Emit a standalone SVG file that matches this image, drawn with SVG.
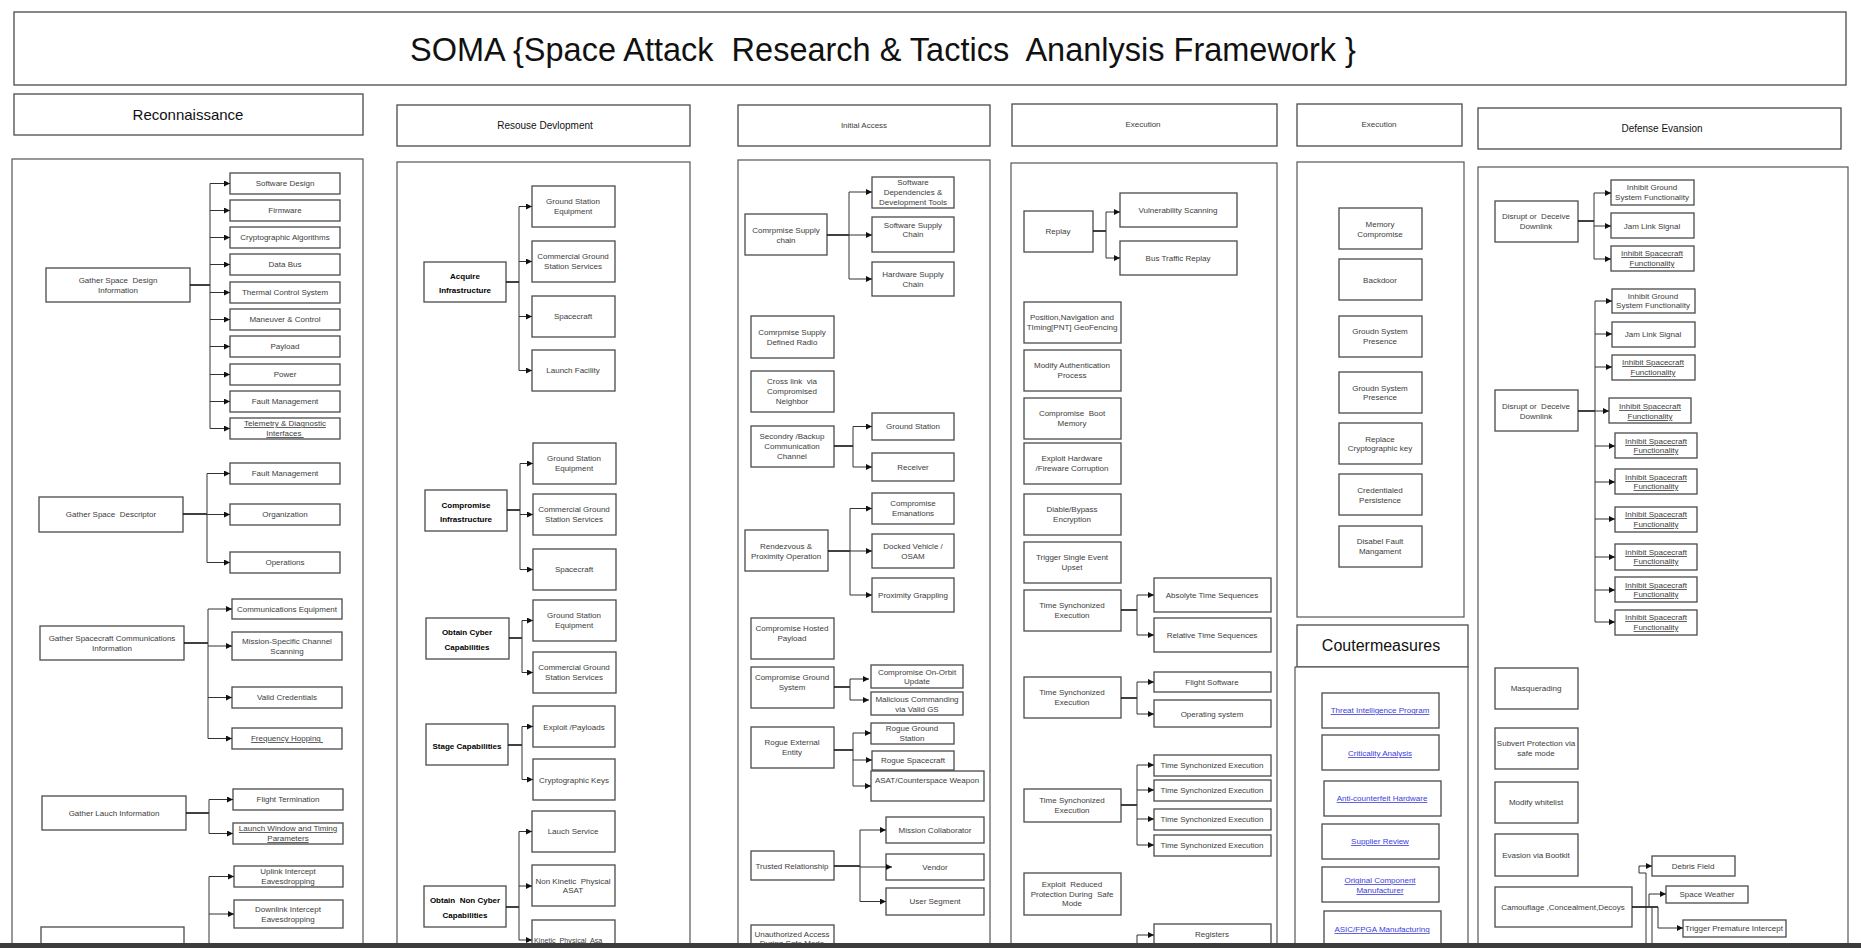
<svg xmlns="http://www.w3.org/2000/svg" width="1861" height="948" viewBox="0 0 1861 948" xml:space="preserve">
<style>
text{white-space:pre}
.box{fill:#fff;stroke:#4a4a4a;stroke-width:1.3}
.cont{fill:#fff;stroke:#555;stroke-width:1.2}
.t{font-family:"Liberation Sans",Arial,sans-serif;font-size:8px;fill:#3d3d3d;text-anchor:middle}
.b{font-weight:bold;fill:#000}
.u{text-decoration:underline}
.lk{fill:#3c3cdc;text-decoration:underline}
.h{font-family:"Liberation Sans",Arial,sans-serif;fill:#111;text-anchor:middle}
.c{fill:none;stroke:#333;stroke-width:1}
.a{fill:none;stroke:#333;stroke-width:1;marker-end:url(#ar)}
.p{fill:none;stroke:#111;stroke-width:1.6}
</style>
<defs>
<marker id="ar" markerWidth="6" markerHeight="6" refX="6" refY="3" orient="auto" markerUnits="userSpaceOnUse"><path d="M0,0 L6,3 L0,6 z" fill="#111"/></marker>
</defs>
<rect width="1861" height="948" fill="#fff"/>
<g id="title"><rect x="14" y="12" width="1832" height="73" class="box"/><text x="883" y="61" class="h" font-size="32.5">SOMA {Space Attack  Research &amp; Tactics  Ananlysis Framework }</text></g>

<!-- Reconnaissance -->
<g id="recon-header"><rect x="14" y="94" width="349" height="41" class="box"/><text x="188" y="120" class="h" font-size="15">Reconnaissance</text></g>
<g id="recon-container"><rect x="12" y="159" width="351" height="800" class="cont"/></g>
<g id="r-gsdi"><rect x="46" y="268" width="144" height="34" class="box"/><text x="118" y="283" class="t">Gather Space  Design</text><text x="118" y="293" class="t">Information</text></g>
<g id="r-sd"><rect x="230" y="173" width="110" height="21" class="box"/><text x="285" y="186" class="t">Software Design</text></g>
<g id="r-fw"><rect x="230" y="200" width="110" height="21" class="box"/><text x="285" y="213" class="t">Firmware</text></g>
<g id="r-ca"><rect x="230" y="227" width="110" height="21" class="box"/><text x="285" y="240" class="t">Cryptographic Algorithms</text></g>
<g id="r-db"><rect x="230" y="254" width="110" height="21" class="box"/><text x="285" y="267" class="t">Data Bus</text></g>
<g id="r-tcs"><rect x="230" y="282" width="110" height="21" class="box"/><text x="285" y="295" class="t">Thermal Control System</text></g>
<g id="r-mc"><rect x="230" y="309" width="110" height="21" class="box"/><text x="285" y="322" class="t">Maneuver &amp; Control</text></g>
<g id="r-pl"><rect x="230" y="336" width="110" height="21" class="box"/><text x="285" y="349" class="t">Payload</text></g>
<g id="r-pw"><rect x="230" y="364" width="110" height="21" class="box"/><text x="285" y="377" class="t">Power</text></g>
<g id="r-fm"><rect x="230" y="391" width="110" height="21" class="box"/><text x="285" y="404" class="t">Fault Management</text></g>
<g id="r-tdi"><rect x="230" y="418" width="110" height="21" class="box"/><text x="285" y="426" class="t u">Telemetry &amp; Diagnostic</text><text x="285" y="436" class="t u">Interfaces </text></g>

<g id="r-gsd"><rect x="39" y="497" width="144" height="35" class="box"/><text x="111" y="517" class="t">Gather Space  Descriptor</text></g>
<g id="r-fm2"><rect x="230" y="463" width="110" height="21" class="box"/><text x="285" y="476" class="t">Fault Management</text></g>
<g id="r-org"><rect x="230" y="504" width="110" height="21" class="box"/><text x="285" y="517" class="t">Organization</text></g>
<g id="r-ops"><rect x="230" y="552" width="110" height="21" class="box"/><text x="285" y="565" class="t">Operations</text></g>

<g id="r-gsci"><rect x="40" y="626" width="144" height="34" class="box"/><text x="112" y="641" class="t">Gather Spacecraft Communications</text><text x="112" y="651" class="t">Information</text></g>
<g id="r-ce"><rect x="232" y="599" width="110" height="20" class="box"/><text x="287" y="612" class="t">Communications Equipment</text></g>
<g id="r-mscs"><rect x="232" y="632" width="110" height="28" class="box"/><text x="287" y="644" class="t">Mission-Specific Channel</text><text x="287" y="654" class="t">Scanning</text></g>
<g id="r-vc"><rect x="232" y="687" width="110" height="21" class="box"/><text x="287" y="700" class="t">Valid Credentials</text></g>
<g id="r-fh"><rect x="232" y="728" width="110" height="21" class="box"/><text x="287" y="741" class="t u">Frequency Hopping </text></g>

<g id="r-gli"><rect x="42" y="796" width="144" height="34" class="box"/><text x="114" y="816" class="t">Gather Lauch Information</text></g>
<g id="r-ft"><rect x="233" y="789" width="110" height="21" class="box"/><text x="288" y="802" class="t">Flight Termination</text></g>
<g id="r-lwtp"><rect x="233" y="823" width="110" height="21" class="box"/><text x="288" y="831" class="t u">Launch Window and Timing</text><text x="288" y="841" class="t u">Parameters</text></g>

<g id="r-eav"><rect x="41" y="927" width="143" height="40" class="box"/><text x="112" y="948" class="t">Eavesdropping</text></g>
<g id="r-uie"><rect x="234" y="866" width="109" height="21" class="box"/><text x="288" y="874" class="t">Uplink Intercept</text><text x="288" y="884" class="t">Eavesdropping</text></g>
<g id="r-die"><rect x="234" y="900" width="109" height="28" class="box"/><text x="288" y="912" class="t">Downlink Intercept</text><text x="288" y="922" class="t">Eavesdropping</text></g>

<!-- Resource Development -->
<g id="rd-header"><rect x="397" y="105" width="293" height="41" class="box"/><text x="545" y="129" class="h" font-size="10">Resouse Devlopment</text></g>
<g id="rd-container"><rect x="397" y="162" width="293" height="800" class="cont"/></g>
<g id="rd-ai"><rect x="424" y="262" width="82" height="40" class="box"/><text x="465" y="279" class="t b">Acquire</text><text x="465" y="293" class="t b">Infrastructure</text></g>
<g id="rd-ai1"><rect x="532" y="186" width="83" height="41" class="box"/><text x="573" y="204" class="t">Ground Station</text><text x="573" y="214" class="t">Equipment</text></g>
<g id="rd-ai2"><rect x="532" y="241" width="83" height="41" class="box"/><text x="573" y="259" class="t">Commercial Ground</text><text x="573" y="269" class="t">Station Services</text></g>
<g id="rd-ai3"><rect x="532" y="296" width="83" height="41" class="box"/><text x="573" y="319" class="t">Spacecraft</text></g>
<g id="rd-ai4"><rect x="532" y="350" width="83" height="41" class="box"/><text x="573" y="373" class="t">Launch Facility</text></g>

<g id="rd-ci"><rect x="425" y="490" width="82" height="41" class="box"/><text x="466" y="508" class="t b">Compromise</text><text x="466" y="522" class="t b">Infrastructure</text></g>
<g id="rd-ci1"><rect x="533" y="443" width="83" height="41" class="box"/><text x="574" y="461" class="t">Ground Station</text><text x="574" y="471" class="t">Equipment</text></g>
<g id="rd-ci2"><rect x="533" y="494" width="83" height="41" class="box"/><text x="574" y="512" class="t">Commercial Ground</text><text x="574" y="522" class="t">Station Services</text></g>
<g id="rd-ci3"><rect x="533" y="549" width="83" height="41" class="box"/><text x="574" y="572" class="t">Spacecraft</text></g>

<g id="rd-occ"><rect x="426" y="618" width="83" height="41" class="box"/><text x="467" y="635" class="t b">Obtain Cyber</text><text x="467" y="650" class="t b">Capabilities</text></g>
<g id="rd-occ1"><rect x="533" y="600" width="83" height="41" class="box"/><text x="574" y="618" class="t">Ground Station</text><text x="574" y="628" class="t">Equipment</text></g>
<g id="rd-occ2"><rect x="533" y="652" width="83" height="41" class="box"/><text x="574" y="670" class="t">Commercial Ground</text><text x="574" y="680" class="t">Station Services</text></g>

<g id="rd-sc"><rect x="426" y="724" width="82" height="41" class="box"/><text x="467" y="749" class="t b">Stage Capabilities</text></g>
<g id="rd-sc1"><rect x="533" y="706" width="82" height="41" class="box"/><text x="574" y="730" class="t">Exploit /Payloads</text></g>
<g id="rd-sc2"><rect x="533" y="759" width="82" height="41" class="box"/><text x="574" y="783" class="t">Cryptographic Keys</text></g>

<g id="rd-oncc"><rect x="424" y="886" width="82" height="41" class="box"/><text x="465" y="903" class="t b">Obtain  Non Cyber</text><text x="465" y="918" class="t b">Capabilities</text></g>
<g id="rd-oncc1"><rect x="532" y="811" width="83" height="41" class="box"/><text x="573" y="834" class="t">Lauch Service</text></g>
<g id="rd-oncc2"><rect x="532" y="865" width="83" height="41" class="box"/><text x="573" y="884" class="t">Non Kinetic  Physical</text><text x="573" y="893" class="t">ASAT</text></g>
<g id="rd-oncc3"><rect x="532" y="920" width="83" height="41" class="box"/><text x="534" y="943" class="t" style="text-anchor:start;font-size:7.2px">Kinetic  Physical  Asa</text></g>

<!-- Initial Access -->
<g id="ia-header"><rect x="738" y="105" width="252" height="41" class="box"/><text x="864" y="128" class="t" fill="#222">Initial Access</text></g>
<g id="ia-container"><rect x="738" y="160" width="252" height="800" class="cont"/></g>
<g id="ia-csc"><rect x="745" y="214" width="82" height="41" class="box"/><text x="786" y="233" class="t">Comrpmise Supply</text><text x="786" y="243" class="t">chain</text></g>
<g id="ia-csc1"><rect x="872" y="177" width="82" height="31" class="box"/><text x="913" y="185" class="t">Software</text><text x="913" y="195" class="t">Dependencies &amp;</text><text x="913" y="205" class="t">Development Tools</text></g>
<g id="ia-csc2"><rect x="872" y="217" width="82" height="35" class="box"/><text x="913" y="228" class="t">Software Supply</text><text x="913" y="237" class="t">Chain</text></g>
<g id="ia-csc3"><rect x="872" y="262" width="82" height="34" class="box"/><text x="913" y="277" class="t">Hardware Supply</text><text x="913" y="287" class="t">Chain</text></g>
<g id="ia-csdr"><rect x="751" y="316" width="83" height="42" class="box"/><text x="792" y="335" class="t">Comrpmise Supply</text><text x="792" y="345" class="t">Defined Radio</text></g>
<g id="ia-cl"><rect x="751" y="371" width="83" height="41" class="box"/><text x="792" y="384" class="t">Cross link  via</text><text x="792" y="394" class="t">Compromised</text><text x="792" y="404" class="t">Neighbor</text></g>
<g id="ia-sbc"><rect x="751" y="426" width="83" height="41" class="box"/><text x="792" y="439" class="t">Secondry /Backup</text><text x="792" y="449" class="t">Communication</text><text x="792" y="459" class="t">Channel</text></g>
<g id="ia-sbc1"><rect x="872" y="413" width="82" height="27" class="box"/><text x="913" y="429" class="t">Ground Station</text></g>
<g id="ia-sbc2"><rect x="872" y="453" width="82" height="28" class="box"/><text x="913" y="470" class="t">Receiver</text></g>
<g id="ia-rpo"><rect x="745" y="530" width="83" height="41" class="box"/><text x="786" y="549" class="t">Rendezvous &amp;</text><text x="786" y="559" class="t">Proximity Operation</text></g>
<g id="ia-rpo1"><rect x="872" y="493" width="82" height="31" class="box"/><text x="913" y="506" class="t">Compromise</text><text x="913" y="516" class="t">Emanations</text></g>
<g id="ia-rpo2"><rect x="872" y="534" width="82" height="34" class="box"/><text x="913" y="549" class="t">Docked Vehicle /</text><text x="913" y="559" class="t">OSAM</text></g>
<g id="ia-rpo3"><rect x="872" y="578" width="82" height="34" class="box"/><text x="913" y="598" class="t">Proximity Grappling</text></g>
<g id="ia-chp"><rect x="751" y="618" width="83" height="41" class="box"/><text x="792" y="631" class="t">Compromise Hosted</text><text x="792" y="641" class="t">Payload</text></g>
<g id="ia-cgs"><rect x="751" y="667" width="83" height="41" class="box"/><text x="792" y="680" class="t">Compromise Ground</text><text x="792" y="690" class="t">System</text></g>
<g id="ia-cgs1"><rect x="871" y="665" width="92" height="23" class="box"/><text x="917" y="675" class="t">Compromise On-Orbit</text><text x="917" y="684" class="t">Update</text></g>
<g id="ia-cgs2"><rect x="871" y="692" width="92" height="23" class="box"/><text x="917" y="702" class="t">Malicious Commanding</text><text x="917" y="712" class="t">via Valid GS</text></g>
<g id="ia-ree"><rect x="751" y="727" width="83" height="41" class="box"/><text x="792" y="745" class="t">Rogue External</text><text x="792" y="755" class="t">Entity</text></g>
<g id="ia-ree1"><rect x="871" y="723" width="83" height="21" class="box"/><text x="912" y="731" class="t">Rogue Ground</text><text x="912" y="741" class="t">Station</text></g>
<g id="ia-ree2"><rect x="872" y="751" width="82" height="19" class="box"/><text x="913" y="763" class="t">Rogue Spacecraft</text></g>
<g id="ia-ree3"><rect x="871" y="771" width="113" height="30" class="box"/><text x="927" y="783" class="t">ASAT/Counterspace Weapon</text></g>
<g id="ia-tr"><rect x="751" y="851" width="83" height="29" class="box"/><text x="792" y="869" class="t">Trusted Relationship</text></g>
<g id="ia-tr1"><rect x="886" y="817" width="98" height="26" class="box"/><text x="935" y="833" class="t">Mission Collaborator</text></g>
<g id="ia-tr2"><rect x="886" y="854" width="98" height="26" class="box"/><text x="935" y="870" class="t">Vendor</text></g>
<g id="ia-tr3"><rect x="886" y="888" width="98" height="27" class="box"/><text x="935" y="904" class="t">User Segment</text></g>
<g id="ia-uasm"><rect x="751" y="925" width="83" height="40" class="box"/><text x="792" y="937" class="t">Unauthorized Access</text><text x="792" y="946" class="t">During Safe Mode</text></g>

<!-- Execution 1 -->
<g id="ex-header"><rect x="1012" y="104" width="265" height="42" class="box"/><text x="1143" y="127" class="t" fill="#222">Execution</text></g>
<g id="ex-container"><rect x="1011" y="163" width="266" height="800" class="cont"/></g>
<g id="ex-replay"><rect x="1024" y="211" width="69" height="41" class="box"/><text x="1058" y="234" class="t">Replay</text></g>
<g id="ex-vs"><rect x="1120" y="193" width="117" height="34" class="box"/><text x="1178" y="213" class="t">Vulnerability Scanning</text></g>
<g id="ex-btr"><rect x="1120" y="241" width="117" height="34" class="box"/><text x="1178" y="261" class="t">Bus Traffic Replay</text></g>
<g id="ex-pnt"><rect x="1024" y="302" width="97" height="41" class="box"/><text x="1072" y="320" class="t">Position,Navigation and</text><text x="1072" y="330" class="t">TIming[PNT] GeoFencing</text></g>
<g id="ex-map"><rect x="1024" y="350" width="97" height="41" class="box"/><text x="1072" y="368" class="t">Modify Authentication</text><text x="1072" y="378" class="t">Process</text></g>
<g id="ex-cbm"><rect x="1024" y="398" width="97" height="41" class="box"/><text x="1072" y="416" class="t">Compromise  Boot</text><text x="1072" y="426" class="t">Memory</text></g>
<g id="ex-ehfc"><rect x="1024" y="443" width="97" height="41" class="box"/><text x="1072" y="461" class="t">Exploit Hardware</text><text x="1072" y="471" class="t">/Fireware Corruption</text></g>
<g id="ex-dbe"><rect x="1024" y="494" width="97" height="41" class="box"/><text x="1072" y="512" class="t">Diable/Bypass</text><text x="1072" y="522" class="t">Encryption</text></g>
<g id="ex-tseu"><rect x="1024" y="542" width="97" height="41" class="box"/><text x="1072" y="560" class="t">Trigger Single Event</text><text x="1072" y="570" class="t">Upset</text></g>
<g id="ex-tse1"><rect x="1024" y="590" width="97" height="41" class="box"/><text x="1072" y="608" class="t">Time Synchonized</text><text x="1072" y="618" class="t">Execution</text></g>
<g id="ex-ats"><rect x="1154" y="578" width="117" height="34" class="box"/><text x="1212" y="598" class="t">Absolyte Time Sequences</text></g>
<g id="ex-rts"><rect x="1154" y="618" width="117" height="34" class="box"/><text x="1212" y="638" class="t">Relative Time Sequences</text></g>
<g id="ex-tse2"><rect x="1024" y="677" width="97" height="41" class="box"/><text x="1072" y="695" class="t">Time Synchonized</text><text x="1072" y="705" class="t">Execution</text></g>
<g id="ex-fs"><rect x="1154" y="672" width="117" height="20" class="box"/><text x="1212" y="685" class="t">Flight Software</text></g>
<g id="ex-os"><rect x="1154" y="700" width="117" height="27" class="box"/><text x="1212" y="717" class="t">Operating system</text></g>
<g id="ex-tse3"><rect x="1024" y="789" width="97" height="33" class="box"/><text x="1072" y="803" class="t">Time Synchonized</text><text x="1072" y="813" class="t">Execution</text></g>
<g id="ex-tse3a"><rect x="1154" y="755" width="117" height="21" class="box"/><text x="1212" y="768" class="t">Time Synchonized Execution</text></g>
<g id="ex-tse3b"><rect x="1154" y="780" width="117" height="21" class="box"/><text x="1212" y="793" class="t">Time Synchonized Execution</text></g>
<g id="ex-tse3c"><rect x="1154" y="809" width="117" height="21" class="box"/><text x="1212" y="822" class="t">Time Synchonized Execution</text></g>
<g id="ex-tse3d"><rect x="1154" y="835" width="117" height="21" class="box"/><text x="1212" y="848" class="t">Time Synchonized Execution</text></g>
<g id="ex-erp"><rect x="1024" y="873" width="97" height="42" class="box"/><text x="1072" y="887" class="t">Exploit  Reduced</text><text x="1072" y="897" class="t">Protection During  Safe</text><text x="1072" y="906" class="t">Mode</text></g>
<g id="ex-reg"><rect x="1154" y="924" width="117" height="40" class="box"/><text x="1212" y="937" class="t">Registers</text></g>

<!-- Execution 2 (persistence) -->
<g id="ex2-header"><rect x="1297" y="104" width="165" height="42" class="box"/><text x="1379" y="127" class="t" fill="#222">Execution</text></g>
<g id="ex2-container"><rect x="1297" y="162" width="167" height="455" class="cont"/></g>
<g id="ex2-mc"><rect x="1339" y="208" width="83" height="41" class="box"/><text x="1380" y="227" class="t">Memory</text><text x="1380" y="237" class="t">Compromise</text></g>
<g id="ex2-bd"><rect x="1339" y="259" width="83" height="41" class="box"/><text x="1380" y="283" class="t">Backdoor</text></g>
<g id="ex2-gsp1"><rect x="1339" y="316" width="83" height="41" class="box"/><text x="1380" y="334" class="t">Groudn System</text><text x="1380" y="344" class="t">Presence</text></g>
<g id="ex2-gsp2"><rect x="1339" y="372" width="83" height="41" class="box"/><text x="1380" y="391" class="t">Groudn System</text><text x="1380" y="400" class="t">Presence</text></g>
<g id="ex2-rck"><rect x="1339" y="423" width="83" height="41" class="box"/><text x="1380" y="442" class="t">Replace</text><text x="1380" y="451" class="t">Cryptographic key</text></g>
<g id="ex2-cp"><rect x="1339" y="474" width="83" height="41" class="box"/><text x="1380" y="493" class="t">Credentialed</text><text x="1380" y="503" class="t">Persistence</text></g>
<g id="ex2-dfm"><rect x="1339" y="526" width="83" height="41" class="box"/><text x="1380" y="544" class="t">Disabel Fault</text><text x="1380" y="554" class="t">Mangament</text></g>

<!-- Countermeasures -->
<g id="cm-header"><rect x="1297" y="625" width="171" height="42" class="box"/><text x="1381" y="651" class="h" font-size="16">Coutermeasures</text></g>
<g id="cm-container"><rect x="1295" y="667" width="173" height="300" class="cont"/></g>
<g id="cm-tip"><rect x="1322" y="693" width="117" height="35" class="box"/><text x="1380" y="713" class="t lk">Threat Intelligence Program</text></g>
<g id="cm-ca"><rect x="1322" y="735" width="117" height="35" class="box"/><text x="1380" y="756" class="t lk">Criticality Analysis</text></g>
<g id="cm-ach"><rect x="1324" y="781" width="117" height="35" class="box"/><text x="1382" y="801" class="t lk">Anti-counterfeit Hardware</text></g>
<g id="cm-sr"><rect x="1322" y="824" width="117" height="35" class="box"/><text x="1380" y="844" class="t lk">Supplier Review</text></g>
<g id="cm-ocm"><rect x="1322" y="867" width="117" height="35" class="box"/><text x="1380" y="883" class="t lk">Original Component</text><text x="1380" y="893" class="t lk">Manufacturer</text></g>
<g id="cm-asic"><rect x="1324" y="911" width="117" height="40" class="box"/><text x="1382" y="932" class="t lk">ASIC/FPGA Manufacturing</text></g>

<!-- Defense Evasion -->
<g id="de-header"><rect x="1478" y="108" width="363" height="41" class="box"/><text x="1662" y="132" class="h" font-size="10">Defense Evansion</text></g>
<g id="de-container"><rect x="1478" y="167" width="370" height="800" class="cont"/></g>
<g id="de-dd1"><rect x="1495" y="201" width="83" height="41" class="box"/><text x="1536" y="219" class="t">Disrupt or  Deceive</text><text x="1536" y="229" class="t">Downlink</text></g>
<g id="de-dd1a"><rect x="1611" y="180" width="83" height="25" class="box"/><text x="1652" y="190" class="t">Inhibit Ground</text><text x="1652" y="200" class="t">System Functionality</text></g>
<g id="de-dd1b"><rect x="1611" y="213" width="83" height="25" class="box"/><text x="1652" y="229" class="t">Jam Link Signal</text></g>
<g id="de-dd1c"><rect x="1611" y="246" width="83" height="25" class="box"/><text x="1652" y="256" class="t u">Inhibit Spacecraft</text><text x="1652" y="266" class="t u">Functionality</text></g>
<g id="de-dd2"><rect x="1495" y="390" width="83" height="41" class="box"/><text x="1536" y="409" class="t">Disrupt or  Deceive</text><text x="1536" y="419" class="t">Downlink</text></g>
<g id="de-dd2a"><rect x="1612" y="289" width="83" height="24" class="box"/><text x="1653" y="299" class="t">Inhibit Ground</text><text x="1653" y="308" class="t">System Functionality</text></g>
<g id="de-dd2b"><rect x="1612" y="322" width="83" height="25" class="box"/><text x="1653" y="337" class="t">Jam Link Signal</text></g>
<g id="de-dd2c"><rect x="1612" y="355" width="83" height="25" class="box"/><text x="1653" y="365" class="t u">Inhibit Spacecraft</text><text x="1653" y="375" class="t u">Functionality</text></g>
<g id="de-dd2d"><rect x="1609" y="398" width="82" height="25" class="box"/><text x="1650" y="409" class="t u">Inhibit Spacecraft</text><text x="1650" y="419" class="t u">Functionality</text></g>
<g id="de-dd2e"><rect x="1615" y="433" width="82" height="25" class="box"/><text x="1656" y="444" class="t u">Inhibit Spacecraft</text><text x="1656" y="453" class="t u">Functionality</text></g>
<g id="de-dd2f"><rect x="1615" y="469" width="82" height="25" class="box"/><text x="1656" y="480" class="t u">Inhibit Spacecraft</text><text x="1656" y="489" class="t u">Functionality</text></g>
<g id="de-dd2g"><rect x="1615" y="507" width="82" height="25" class="box"/><text x="1656" y="517" class="t u">Inhibit Spacecraft</text><text x="1656" y="527" class="t u">Functionality</text></g>
<g id="de-dd2h"><rect x="1615" y="544" width="82" height="26" class="box"/><text x="1656" y="555" class="t u">Inhibit Spacecraft</text><text x="1656" y="564" class="t u">Functionality</text></g>
<g id="de-dd2i"><rect x="1615" y="577" width="82" height="25" class="box"/><text x="1656" y="588" class="t u">Inhibit Spacecraft</text><text x="1656" y="597" class="t u">Functionality</text></g>
<g id="de-dd2j"><rect x="1615" y="610" width="82" height="25" class="box"/><text x="1656" y="620" class="t u">Inhibit Spacecraft</text><text x="1656" y="630" class="t u">Functionality</text></g>
<g id="de-masq"><rect x="1495" y="668" width="83" height="41" class="box"/><text x="1536" y="691" class="t">Masquerading</text></g>
<g id="de-spsm"><rect x="1495" y="728" width="83" height="41" class="box"/><text x="1536" y="746" class="t">Subvert Protection via</text><text x="1536" y="756" class="t">safe mode</text></g>
<g id="de-mw"><rect x="1495" y="782" width="83" height="41" class="box"/><text x="1536" y="805" class="t">Modify whitelist</text></g>
<g id="de-evb"><rect x="1495" y="834" width="83" height="42" class="box"/><text x="1536" y="858" class="t">Evasion via Bootkit</text></g>
<g id="de-ccd"><rect x="1495" y="887" width="137" height="40" class="box"/><text x="1563" y="910" class="t">Camouflage ,Concealment,Decoys</text></g>
<g id="de-df"><rect x="1652" y="856" width="83" height="20" class="box"/><text x="1693" y="869" class="t">Debris Field</text></g>
<g id="de-sw"><rect x="1666" y="886" width="82" height="17" class="box"/><text x="1707" y="897" class="t">Space Weather</text></g>
<g id="de-tpi"><rect x="1683" y="920" width="103" height="17" class="box"/><text x="1734" y="931" class="t">Trigger Premature Intercept</text></g>

<!-- Connectors -->
<g id="connectors">
<path class="p" d="M190,285 H210"/><path class="c" d="M210,183.5 V428.5"/>
<path class="a" d="M210,183.5 H230"/><path class="a" d="M210,210.5 H230"/><path class="a" d="M210,237.5 H230"/><path class="a" d="M210,264.5 H230"/><path class="a" d="M210,292.5 H230"/><path class="a" d="M210,319.5 H230"/><path class="a" d="M210,346.5 H230"/><path class="a" d="M210,374.5 H230"/><path class="a" d="M210,401.5 H230"/><path class="a" d="M210,428.5 H230"/>
<path class="p" d="M183,514 H207"/><path class="c" d="M207,473.5 V562.5"/>
<path class="a" d="M207,473.5 H230"/><path class="a" d="M207,514.5 H230"/><path class="a" d="M207,562.5 H230"/>
<path class="p" d="M184,643 H208"/><path class="c" d="M208,609 V738.5"/>
<path class="a" d="M208,609 H232"/><path class="a" d="M208,646 H232"/><path class="a" d="M208,697.5 H232"/><path class="a" d="M208,738.5 H232"/>
<path class="p" d="M186,813 H209"/><path class="c" d="M209,799.5 V833.5"/>
<path class="a" d="M209,799.5 H233"/><path class="a" d="M209,833.5 H233"/>
<path class="c" d="M209,876.5 V948"/>
<path class="a" d="M209,876.5 H234"/><path class="a" d="M209,914 H234"/>

<path class="p" d="M506,282 H519"/><path class="c" d="M519,206.5 V370.5"/>
<path class="a" d="M519,206.5 H532"/><path class="a" d="M519,261.5 H532"/><path class="a" d="M519,316.5 H532"/><path class="a" d="M519,370.5 H532"/>
<path class="p" d="M507,510 H520"/><path class="c" d="M520,463.5 V569.5"/>
<path class="a" d="M520,463.5 H533"/><path class="a" d="M520,514.5 H533"/><path class="a" d="M520,569.5 H533"/>
<path class="p" d="M509,638 H522"/><path class="c" d="M522,620.5 V672.5"/>
<path class="a" d="M522,620.5 H533"/><path class="a" d="M522,672.5 H533"/>
<path class="p" d="M508,745 H522"/><path class="c" d="M522,726.5 V779.5"/>
<path class="a" d="M522,726.5 H533"/><path class="a" d="M522,779.5 H533"/>
<path class="p" d="M506,907 H519"/><path class="c" d="M519,831.5 V940"/>
<path class="a" d="M519,831.5 H532"/><path class="a" d="M519,886 H532"/><path class="a" d="M519,940 H532"/>

<path class="p" d="M827,235 H849"/><path class="c" d="M849,192 V279"/>
<path class="a" d="M849,192 H872"/><path class="a" d="M849,235 H872"/><path class="a" d="M849,279 H872"/>
<path class="p" d="M834,446 H853"/><path class="c" d="M853,426.5 V467"/>
<path class="a" d="M853,426.5 H872"/><path class="a" d="M853,467 H872"/>
<path class="p" d="M828,551 H850"/><path class="c" d="M850,508.5 V595"/>
<path class="a" d="M850,508.5 H872"/><path class="a" d="M850,551 H872"/><path class="a" d="M850,595 H872"/>
<path class="p" d="M834,687 H850"/><path class="c" d="M850,679 V700"/>
<path class="a" d="M850,679 H869"/><path class="a" d="M850,700 H869"/>
<path class="p" d="M834,750 H853"/><path class="c" d="M853,733 V786"/>
<path class="a" d="M853,733 H871"/><path class="a" d="M853,760 H872"/><path class="a" d="M853,786 H871"/>
<path class="p" d="M834,866 H860"/><path class="c" d="M860,830 V901.5"/>
<path class="a" d="M860,830 H886"/><path class="a" d="M860,867 H892"/><path class="a" d="M860,901.5 H886"/>

<path class="p" d="M1093,231 H1106"/><path class="c" d="M1106,212 V258"/>
<path class="a" d="M1106,212 H1120"/><path class="a" d="M1106,258 H1120"/>
<path class="p" d="M1121,610 H1137"/><path class="c" d="M1137,595 V635"/>
<path class="a" d="M1137,595 H1154"/><path class="a" d="M1137,635 H1154"/>
<path class="p" d="M1121,698 H1137"/><path class="c" d="M1137,682 V714"/>
<path class="a" d="M1137,682 H1154"/><path class="a" d="M1137,714 H1154"/>
<path class="p" d="M1121,805 H1137"/><path class="c" d="M1137,765 V845"/>
<path class="a" d="M1137,765 H1154"/><path class="a" d="M1137,790 H1154"/><path class="a" d="M1137,819 H1154"/><path class="a" d="M1137,845 H1154"/>
<path class="c" d="M1137,935 V948"/><path class="a" d="M1137,935 H1154"/>

<path class="p" d="M1578,221 H1594"/><path class="c" d="M1594,193 V259"/>
<path class="a" d="M1594,193 H1611"/><path class="a" d="M1594,226 H1611"/><path class="a" d="M1594,259 H1611"/>
<path class="p" d="M1578,411 H1595"/><path class="c" d="M1595,301 V622"/>
<path class="a" d="M1595,301 H1612"/><path class="a" d="M1595,334 H1612"/><path class="a" d="M1595,367 H1612"/><path class="a" d="M1595,411 H1609"/><path class="a" d="M1595,446 H1615"/><path class="a" d="M1595,482 H1615"/><path class="a" d="M1595,519 H1615"/><path class="a" d="M1595,557 H1615"/><path class="a" d="M1595,590 H1615"/><path class="a" d="M1595,622 H1615"/>
<path class="p" d="M1632,907 H1658"/>
<path class="a" d="M1658,907 V928 H1683"/>
<path class="a" d="M1646,948 V873 H1639 V866 H1652"/>
<path class="a" d="M1649,907 V894 H1666"/>
<path class="c" d="M1652,907 V948"/>
</g>
<rect x="0" y="943" width="1861" height="5" fill="#3c3c3c"/>
</svg>
